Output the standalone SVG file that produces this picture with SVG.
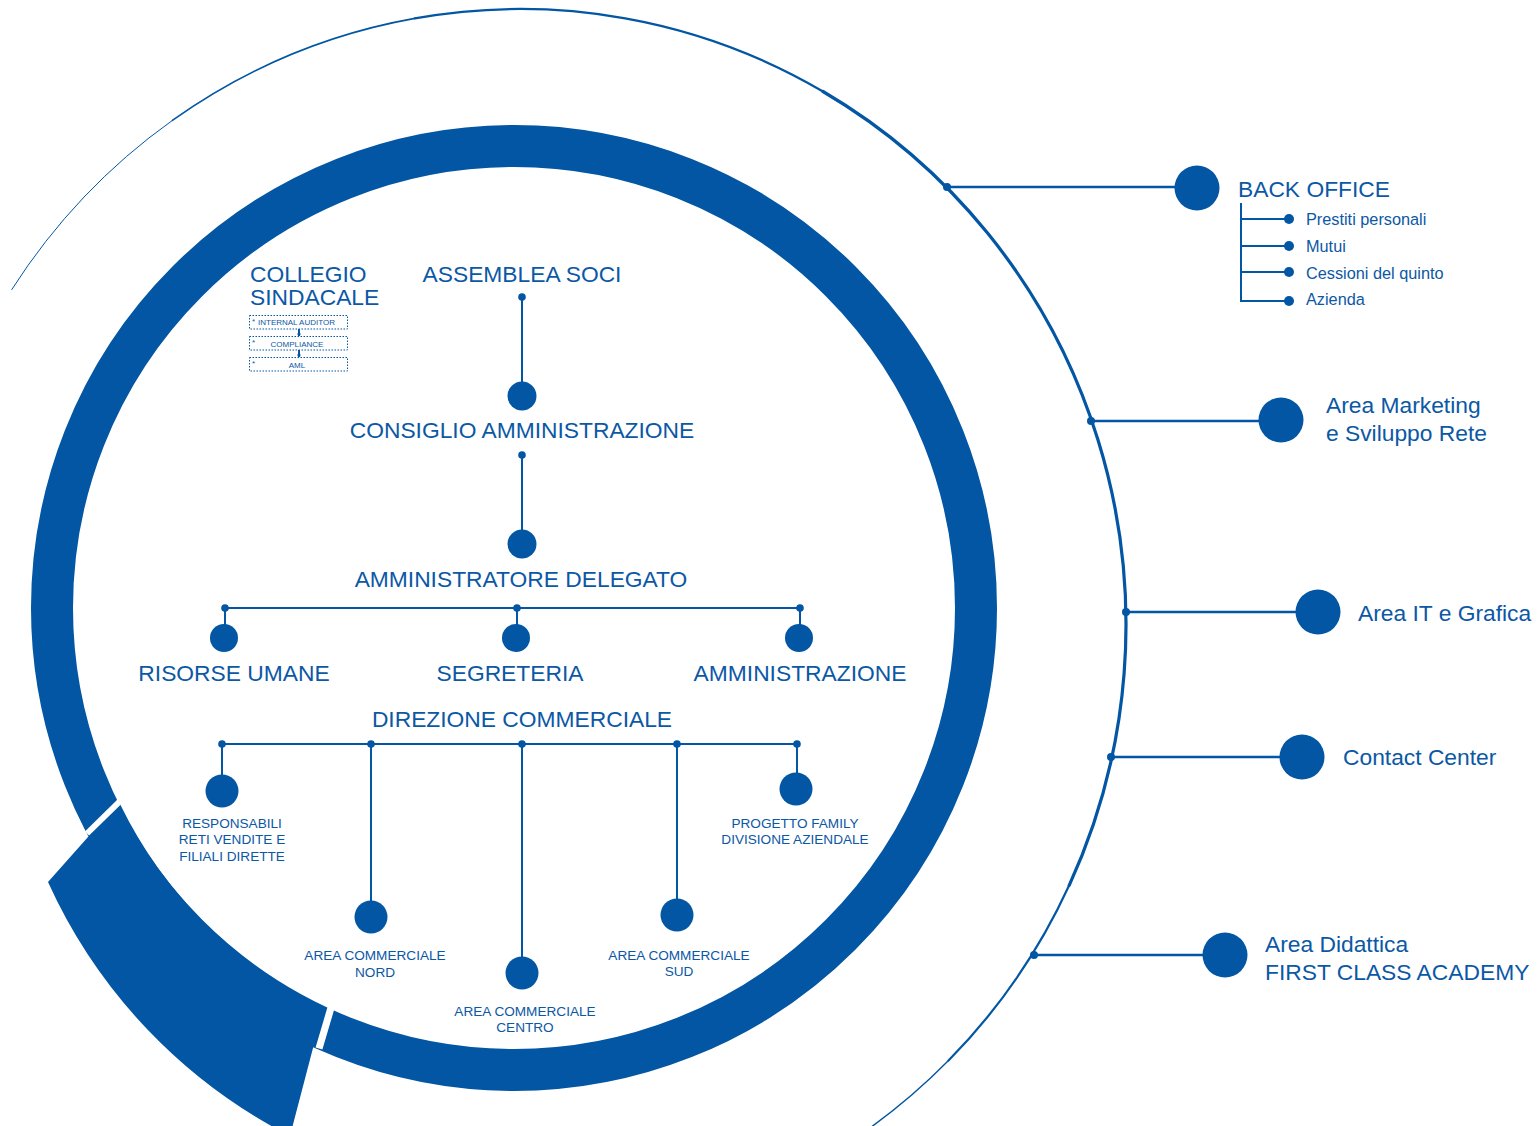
<svg xmlns="http://www.w3.org/2000/svg" width="1538" height="1126" viewBox="0 0 1538 1126">
<style>
text{font-family:"Liberation Sans",Arial,sans-serif;fill:#0b58a5}
.big{font-size:22.8px}
.mid{font-size:16.3px}
.sm{font-size:13.6px;text-anchor:middle}
.tiny{font-size:8px}
.c{text-anchor:middle}
.ln{stroke:#0256a3;stroke-width:2;fill:none}
.ln2{stroke:#0256a3;stroke-width:2.5;fill:none}
.dot{fill:#0256a3}
.arc{stroke:#0256a3;fill:none;stroke-linecap:round}
.box{fill:none;stroke:#0256a3;stroke-width:1;stroke-dasharray:1.5 1.5}
</style>
<rect width="1538" height="1126" fill="#fff"/>
<g id="outer-ring">
<path class="arc" stroke-width="1" d="M11.8 289.5 A606 616 0 0 1 172.4 120.4"/>
<path class="arc" stroke-width="1.6" d="M172.4 120.4 A606 616 0 0 1 414.8 18.4"/>
<path class="arc" stroke-width="2.2" d="M414.8 18.4 A606 616 0 0 1 823 91.5"/>
<path class="arc" stroke-width="3.2" d="M823 91.5 A606 616 0 0 1 1069.2 885.3"/>
<path class="arc" stroke-width="2.2" d="M1069.2 885.3 A606 616 0 0 1 948.5 1060.6"/>
<path class="arc" stroke-width="1.4" d="M948.5 1060.6 A606 616 0 0 1 804.5 1168.9"/>
</g>
<g id="main-ring">
<circle cx="514" cy="608" r="462" fill="none" stroke="#0256a3" stroke-width="42"/>
<path fill="#0256a3" d="M120 804 L88 837 L48 882 A532 532 0 0 0 290 1136 L313 1048 L328 1010 A441 441 0 0 1 120 804 Z"/>
<polygon fill="#fff" points="119.5,797.5 123.7,801.7 89.1,835.6 84.9,831.4"/>
<polygon fill="#fff" points="315.6,1047.5 322.4,1049.5 336.4,1002 329.6,1000"/>
</g>
<g id="connectors">
<line class="ln" x1="522" y1="297" x2="522" y2="396"/>
<line class="ln" x1="522" y1="455" x2="522" y2="544"/>
<line class="ln" x1="225" y1="608" x2="800" y2="608"/>
<line class="ln" x1="225" y1="608" x2="225" y2="638"/>
<line class="ln" x1="517" y1="608" x2="517" y2="638"/>
<line class="ln" x1="800" y1="608" x2="800" y2="638"/>
<line class="ln" x1="222" y1="744" x2="797" y2="744"/>
<line class="ln" x1="222" y1="744" x2="222" y2="791"/>
<line class="ln" x1="371" y1="744" x2="371" y2="917"/>
<line class="ln" x1="522" y1="744" x2="522" y2="973"/>
<line class="ln" x1="677" y1="744" x2="677" y2="915"/>
<line class="ln" x1="797" y1="744" x2="797" y2="789"/>
<line class="ln2" x1="947" y1="187" x2="1196" y2="187"/>
<line class="ln2" x1="1091" y1="421" x2="1281" y2="421"/>
<line class="ln2" x1="1126" y1="612" x2="1318" y2="612"/>
<line class="ln2" x1="1111" y1="757" x2="1302" y2="757"/>
<line class="ln2" x1="1034" y1="955" x2="1225" y2="955"/>
<path class="ln" stroke-width="1.5" d="M1241 203 V302 M1241 219 H1289 M1241 246 H1289 M1241 272 H1289 M1241 301 H1289"/>
<line class="ln" stroke-width="1" x1="299" y1="329" x2="299" y2="336"/>
<line class="ln" stroke-width="1" x1="299" y1="350" x2="299" y2="357"/>
<circle class="dot" cx="299" cy="334" r="1.6"/>
<circle class="dot" cx="299" cy="355" r="1.6"/>
<circle class="dot" cx="947" cy="187" r="4"/>
<circle class="dot" cx="1091" cy="421" r="4"/>
<circle class="dot" cx="1126" cy="612" r="4"/>
<circle class="dot" cx="1111" cy="757" r="4"/>
<circle class="dot" cx="1034" cy="955" r="4"/>
</g>
<g id="collegio-sindacale">
<text class="big" x="250" y="282">COLLEGIO</text>
<text class="big" x="250" y="305">SINDACALE</text>
<rect class="box" x="249.5" y="315.5" width="98" height="13.5"/>
<text class="tiny" x="252" y="324">*</text>
<text class="tiny" x="258" y="325">INTERNAL AUDITOR</text>
<rect class="box" x="249.5" y="336.5" width="98" height="13.5"/>
<text class="tiny" x="252" y="345">*</text>
<text class="tiny c" x="297" y="347">COMPLIANCE</text>
<rect class="box" x="249.5" y="357.5" width="98" height="13.5"/>
<text class="tiny" x="252" y="366">*</text>
<text class="tiny c" x="297" y="368">AML</text>
</g>
<g id="assemblea-soci">
<text class="big c" x="522" y="282">ASSEMBLEA SOCI</text>
<circle class="dot" cx="522" cy="297" r="3.8"/>
</g>
<g id="consiglio-amministrazione">
<circle class="dot" cx="522" cy="396" r="14.5"/>
<text class="big c" x="522" y="438">CONSIGLIO AMMINISTRAZIONE</text>
<circle class="dot" cx="522" cy="455" r="3.8"/>
</g>
<g id="amministratore-delegato">
<circle class="dot" cx="522" cy="544" r="14.5"/>
<text class="big c" x="521" y="587">AMMINISTRATORE DELEGATO</text>
<circle class="dot" cx="225" cy="608" r="3.8"/>
<circle class="dot" cx="517" cy="608" r="3.8"/>
<circle class="dot" cx="800" cy="608" r="3.8"/>
</g>
<g id="risorse-umane">
<circle class="dot" cx="224" cy="638" r="14"/>
<text class="big c" x="234" y="681">RISORSE UMANE</text>
</g>
<g id="segreteria">
<circle class="dot" cx="516" cy="638" r="14"/>
<text class="big c" x="510" y="681">SEGRETERIA</text>
</g>
<g id="amministrazione">
<circle class="dot" cx="799" cy="638" r="14"/>
<text class="big c" x="800" y="681">AMMINISTRAZIONE</text>
</g>
<g id="direzione-commerciale">
<text class="big c" x="522" y="727">DIREZIONE COMMERCIALE</text>
<circle class="dot" cx="222" cy="744" r="3.8"/>
<circle class="dot" cx="371" cy="744" r="3.8"/>
<circle class="dot" cx="522" cy="744" r="3.8"/>
<circle class="dot" cx="677" cy="744" r="3.8"/>
<circle class="dot" cx="797" cy="744" r="3.8"/>
</g>
<g id="responsabili">
<circle class="dot" cx="222" cy="791" r="16.5"/>
<text class="sm" x="232" y="828">RESPONSABILI</text>
<text class="sm" x="232" y="844">RETI VENDITE E</text>
<text class="sm" x="232" y="861">FILIALI DIRETTE</text>
</g>
<g id="area-nord">
<circle class="dot" cx="371" cy="917" r="16.5"/>
<text class="sm" x="375" y="960">AREA COMMERCIALE</text>
<text class="sm" x="375" y="977">NORD</text>
</g>
<g id="area-centro">
<circle class="dot" cx="522" cy="973" r="16.5"/>
<text class="sm" x="525" y="1016">AREA COMMERCIALE</text>
<text class="sm" x="525" y="1032">CENTRO</text>
</g>
<g id="area-sud">
<circle class="dot" cx="677" cy="915" r="16.5"/>
<text class="sm" x="679" y="960">AREA COMMERCIALE</text>
<text class="sm" x="679" y="976">SUD</text>
</g>
<g id="progetto-family">
<circle class="dot" cx="796" cy="789" r="16.5"/>
<text class="sm" x="795" y="828">PROGETTO FAMILY</text>
<text class="sm" x="795" y="844">DIVISIONE AZIENDALE</text>
</g>
<g id="back-office">
<circle class="dot" cx="1197" cy="188" r="22.5"/>
<text class="big" x="1238" y="197">BACK OFFICE</text>
<circle class="dot" cx="1289" cy="219" r="5"/>
<circle class="dot" cx="1289" cy="246" r="5"/>
<circle class="dot" cx="1289" cy="272" r="5"/>
<circle class="dot" cx="1289" cy="301" r="5"/>
<text class="mid" x="1306" y="225">Prestiti personali</text>
<text class="mid" x="1306" y="252">Mutui</text>
<text class="mid" x="1306" y="279">Cessioni del quinto</text>
<text class="mid" x="1306" y="305">Azienda</text>
</g>
<g id="area-marketing">
<circle class="dot" cx="1281" cy="420" r="22.5"/>
<text class="big" x="1326" y="413">Area Marketing</text>
<text class="big" x="1326" y="441">e Sviluppo Rete</text>
</g>
<g id="area-it">
<circle class="dot" cx="1318" cy="612" r="22.5"/>
<text class="big" x="1358" y="621">Area IT e Grafica</text>
</g>
<g id="contact-center">
<circle class="dot" cx="1302" cy="757" r="22.5"/>
<text class="big" x="1343" y="765">Contact Center</text>
</g>
<g id="area-didattica">
<circle class="dot" cx="1225" cy="955" r="22.5"/>
<text class="big" x="1265" y="952">Area Didattica</text>
<text class="big" x="1265" y="980">FIRST CLASS ACADEMY</text>
</g>
</svg>
